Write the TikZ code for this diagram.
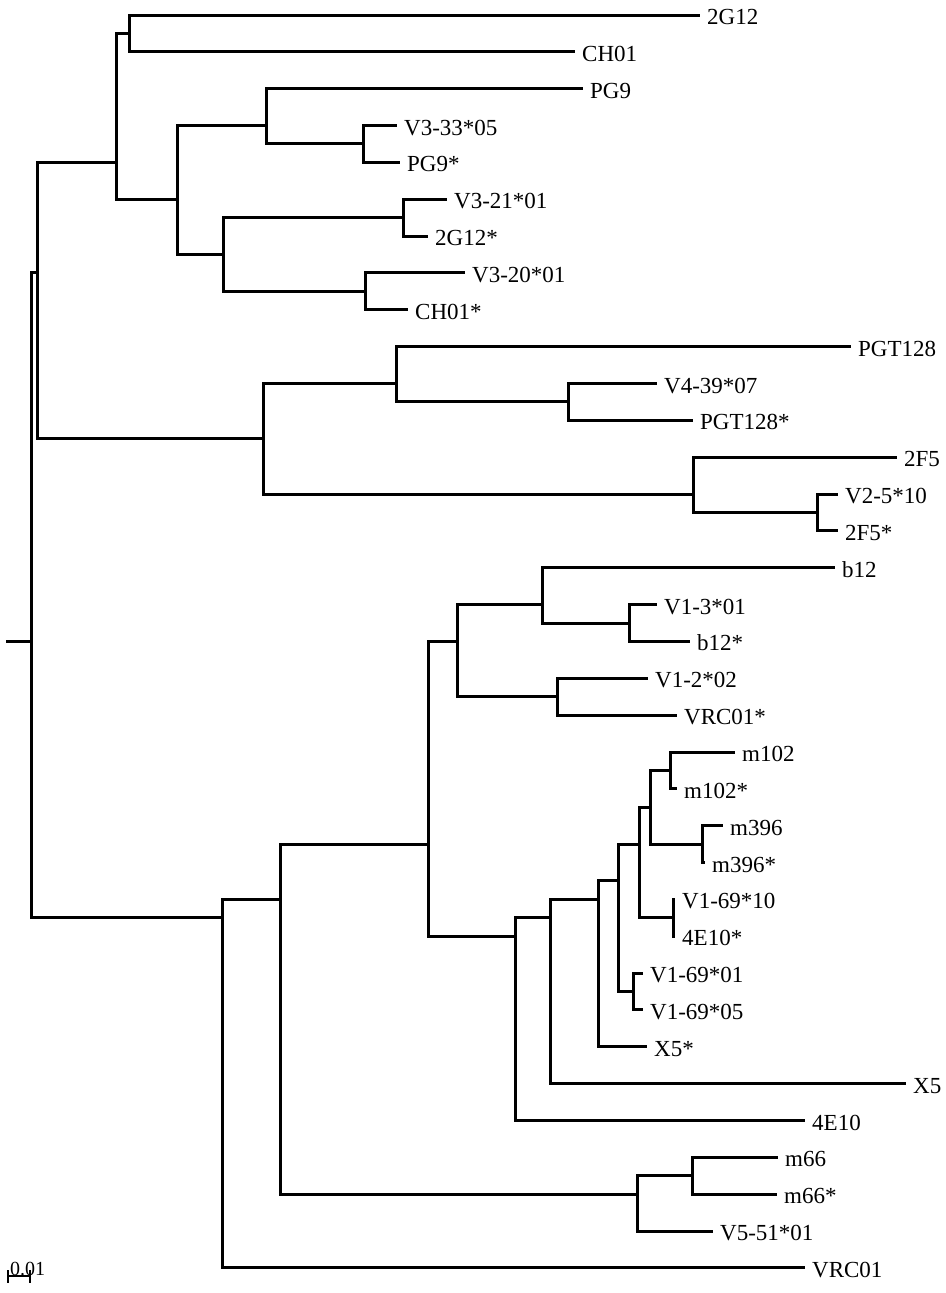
\documentclass[tikz,border=0pt]{standalone}
\usepackage{fontspec}
\setmainfont{Liberation Serif}
\begin{document}
\begin{tikzpicture}[x=1pt, y=-36.85pt]
		\tikzset{branch/.style={line width=3pt, line join=miter},
			taxon/.style={anchor=base west, inner sep=0pt, xshift=7pt, yshift=-9.5pt, font=\fontsize{23}{27}\selectfont}}
		\useasboundingbox (0,-0.4071) rectangle (945,34.681);
		% inner nodes of the tree
		\coordinate (stub) at (6,17);
		\coordinate (root) at (31,17);
		\coordinate (nA) at (37,7);
		\coordinate (nC) at (116,4);
		\coordinate (nE) at (129,0.5);
		\coordinate (nF) at (177,5);
		\coordinate (nG) at (266,3);
		\coordinate (nI) at (363,3.5);
		\coordinate (nH) at (223,6.5);
		\coordinate (nJ) at (403,5.5);
		\coordinate (nK) at (365,7.5);
		\coordinate (nD) at (263,11.5);
		\coordinate (nL) at (396,10);
		\coordinate (nN) at (568,10.5);
		\coordinate (nM) at (693,13);
		\coordinate (nO) at (817,13.5);
		\coordinate (nB) at (222,24.5);
		\coordinate (nP) at (280,24);
		\coordinate (nQ) at (428,22.5);
		\coordinate (nS) at (457,17);
		\coordinate (nU) at (542,16);
		\coordinate (nW) at (629,16.5);
		\coordinate (nV) at (557,18.5);
		\coordinate (nT) at (515,25);
		\coordinate (nX) at (550,24.5);
		\coordinate (nY) at (598,24);
		\coordinate (nZ) at (618,23.5);
		\coordinate (nAA) at (639,22.5);
		\coordinate (nAC) at (650,21.5);
		\coordinate (nAE) at (670,20.5);
		\coordinate (nAF) at (702,22.5);
		\coordinate (nAD) at (673,24.5);
		\coordinate (nAB) at (633,26.5);
		\coordinate (nR) at (637,32);
		\coordinate (nAG) at (692,31.5);
		% tips
		\coordinate (t0) at (700,0);
		\coordinate (t1) at (575,1);
		\coordinate (t2) at (583,2);
		\coordinate (t3) at (397,3);
		\coordinate (t4) at (400,4);
		\coordinate (t5) at (447,5);
		\coordinate (t6) at (428,6);
		\coordinate (t7) at (465,7);
		\coordinate (t8) at (408,8);
		\coordinate (t9) at (851,9);
		\coordinate (t10) at (657,10);
		\coordinate (t11) at (693,11);
		\coordinate (t12) at (897,12);
		\coordinate (t13) at (838,13);
		\coordinate (t14) at (838,14);
		\coordinate (t15) at (835,15);
		\coordinate (t16) at (657,16);
		\coordinate (t17) at (690,17);
		\coordinate (t18) at (648,18);
		\coordinate (t19) at (677,19);
		\coordinate (t20) at (735,20);
		\coordinate (t21) at (677,21);
		\coordinate (t22) at (723,22);
		\coordinate (t23) at (705,23);
		\coordinate (t24) at (675,24);
		\coordinate (t25) at (675,25);
		\coordinate (t26) at (643,26);
		\coordinate (t27) at (643,27);
		\coordinate (t28) at (647,28);
		\coordinate (t29) at (906,29);
		\coordinate (t30) at (805,30);
		\coordinate (t31) at (778,31);
		\coordinate (t32) at (777,32);
		\coordinate (t33) at (713,33);
		\coordinate (t34) at (805,34);
		% labels
		\node[taxon] (l0) at (t0) {2G12};
		\node[taxon] (l1) at (t1) {CH01};
		\node[taxon] (l2) at (t2) {PG9};
		\node[taxon] (l3) at (t3) {V3-33*05};
		\node[taxon] (l4) at (t4) {PG9*};
		\node[taxon] (l5) at (t5) {V3-21*01};
		\node[taxon] (l6) at (t6) {2G12*};
		\node[taxon] (l7) at (t7) {V3-20*01};
		\node[taxon] (l8) at (t8) {CH01*};
		\node[taxon] (l9) at (t9) {PGT128};
		\node[taxon] (l10) at (t10) {V4-39*07};
		\node[taxon] (l11) at (t11) {PGT128*};
		\node[taxon] (l12) at (t12) {2F5};
		\node[taxon] (l13) at (t13) {V2-5*10};
		\node[taxon] (l14) at (t14) {2F5*};
		\node[taxon] (l15) at (t15) {b12};
		\node[taxon] (l16) at (t16) {V1-3*01};
		\node[taxon] (l17) at (t17) {b12*};
		\node[taxon] (l18) at (t18) {V1-2*02};
		\node[taxon] (l19) at (t19) {VRC01*};
		\node[taxon] (l20) at (t20) {m102};
		\node[taxon] (l21) at (t21) {m102*};
		\node[taxon] (l22) at (t22) {m396};
		\node[taxon] (l23) at (t23) {m396*};
		\node[taxon] (l24) at (t24) {V1-69*10};
		\node[taxon] (l25) at (t25) {4E10*};
		\node[taxon] (l26) at (t26) {V1-69*01};
		\node[taxon] (l27) at (t27) {V1-69*05};
		\node[taxon] (l28) at (t28) {X5*};
		\node[taxon] (l29) at (t29) {X5};
		\node[taxon] (l30) at (t30) {4E10};
		\node[taxon] (l31) at (t31) {m66};
		\node[taxon] (l32) at (t32) {m66*};
		\node[taxon] (l33) at (t33) {V5-51*01};
		\node[taxon] (l34) at (t34) {VRC01};
		% branches
		\draw[branch] (stub) -- (root);
		\draw[branch] (root) |- (nA);
		\draw[branch] (root) |- (nB);
		\draw[branch] (nA) |- (nC);
		\draw[branch] (nA) |- (nD);
		\draw[branch] (nC) |- (nE);
		\draw[branch] (nC) |- (nF);
		\draw[branch] (nE) |- (t0);
		\draw[branch] (nE) |- (t1);
		\draw[branch] (nF) |- (nG);
		\draw[branch] (nF) |- (nH);
		\draw[branch] (nG) |- (t2);
		\draw[branch] (nG) |- (nI);
		\draw[branch] (nI) |- (t3);
		\draw[branch] (nI) |- (t4);
		\draw[branch] (nH) |- (nJ);
		\draw[branch] (nH) |- (nK);
		\draw[branch] (nJ) |- (t5);
		\draw[branch] (nJ) |- (t6);
		\draw[branch] (nK) |- (t7);
		\draw[branch] (nK) |- (t8);
		\draw[branch] (nD) |- (nL);
		\draw[branch] (nD) |- (nM);
		\draw[branch] (nL) |- (t9);
		\draw[branch] (nL) |- (nN);
		\draw[branch] (nN) |- (t10);
		\draw[branch] (nN) |- (t11);
		\draw[branch] (nM) |- (t12);
		\draw[branch] (nM) |- (nO);
		\draw[branch] (nO) |- (t13);
		\draw[branch] (nO) |- (t14);
		\draw[branch] (nB) |- (nP);
		\draw[branch] (nB) |- (t34);
		\draw[branch] (nP) |- (nQ);
		\draw[branch] (nP) |- (nR);
		\draw[branch] (nQ) |- (nS);
		\draw[branch] (nQ) |- (nT);
		\draw[branch] (nS) |- (nU);
		\draw[branch] (nS) |- (nV);
		\draw[branch] (nU) |- (t15);
		\draw[branch] (nU) |- (nW);
		\draw[branch] (nW) |- (t16);
		\draw[branch] (nW) |- (t17);
		\draw[branch] (nV) |- (t18);
		\draw[branch] (nV) |- (t19);
		\draw[branch] (nT) |- (nX);
		\draw[branch] (nT) |- (t30);
		\draw[branch] (nX) |- (nY);
		\draw[branch] (nX) |- (t29);
		\draw[branch] (nY) |- (nZ);
		\draw[branch] (nY) |- (t28);
		\draw[branch] (nZ) |- (nAA);
		\draw[branch] (nZ) |- (nAB);
		\draw[branch] (nAA) |- (nAC);
		\draw[branch] (nAA) |- (nAD);
		\draw[branch] (nAC) |- (nAE);
		\draw[branch] (nAC) |- (nAF);
		\draw[branch] (nAE) |- (t20);
		\draw[branch] (nAE) |- (t21);
		\draw[branch] (nAF) |- (t22);
		\draw[branch] (nAF) |- (t23);
		\draw[branch] (nAD) |- (t24);
		\draw[branch] (nAD) |- (t25);
		\draw[branch] (nAB) |- (t26);
		\draw[branch] (nAB) |- (t27);
		\draw[branch] (nR) |- (nAG);
		\draw[branch] (nR) |- (t33);
		\draw[branch] (nAG) |- (t31);
		\draw[branch] (nAG) |- (t32);
		% scale bar
		\coordinate (sbL) at (8,34.22);
		\coordinate (sbR) at (30,34.22);
		\draw[line width=2.6pt] (sbL) -- (sbR);
		\draw[line width=2.6pt] ([yshift=6pt]sbL) -- ([yshift=-7pt]sbL);
		\draw[line width=2.6pt] ([yshift=6pt]sbR) -- ([yshift=-7pt]sbR);
		\node[anchor=base west, inner sep=0pt, font=\fontsize{20}{24}\selectfont] (sbtext) at ([xshift=2pt, yshift=1pt]sbL) {0.01};
\end{tikzpicture}
\end{document}
